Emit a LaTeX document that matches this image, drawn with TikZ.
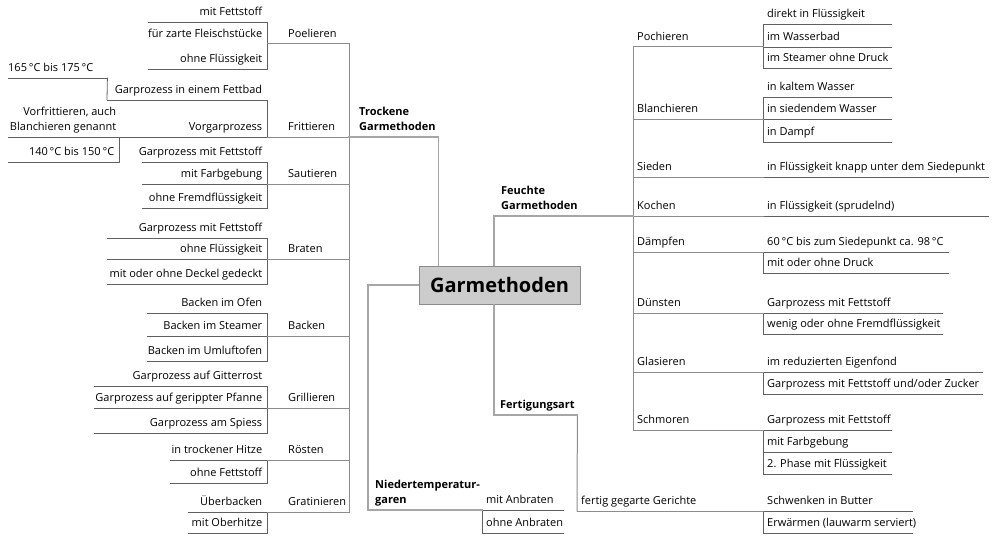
\documentclass[tikz,border=0pt]{standalone}
\usepackage{fontspec}
\setmainfont{Open Sans}
\newcommand{\twol}[2]{\begin{tabular}[b]{@{}l@{}}#1\\#2\end{tabular}}
\newcommand{\twor}[2]{\begin{tabular}[b]{@{}r@{}}#1\\#2\end{tabular}}
\renewcommand{\arraystretch}{1.2}
\tikzset{
  item/.style={anchor=south west, inner xsep=0pt, inner ysep=3.5pt, text depth=2.5pt,
               font=\fontsize{11}{13}\selectfont},
  topic/.style={item, font=\fontsize{11}{13}\selectfont\bfseries},
  leafline/.style={draw=black!62, line width=0.8pt, line cap=rect},
  branchline/.style={draw=black!45, line width=1pt, line cap=rect},
  mainline/.style={draw=black!35, line width=1.3pt, line cap=rect},
  rootbox/.style={draw=black!45, fill=black!20, line width=0.8pt, minimum width=161pt,
                  minimum height=38pt, inner sep=0pt, font=\fontsize{20}{24}\selectfont\bfseries}
}
\begin{document}
\begin{tikzpicture}[x=1pt,y=-1pt]
  \useasboundingbox (0,0) rectangle (1000,543);
  \node[rootbox] (gm) at (499.5,285) {Garmethoden};

  % trockene Garmethoden (links)
  \node[topic] (trock) at (349,137) {\makebox[89pt][l]{\hspace*{10pt}\twol{Trockene}{Garmethoden}}};
  \foreach \n/\y/\t in {poel/44/Poelieren, fritt/137/Frittieren, saut/184/Sautieren,
      brat/259/Braten, back/336/Backen, grill/408/Grillieren, roest/460/Rösten, grat/512/Gratinieren}
    { \node[item] (\n) at (267,\y) {\makebox[82pt][l]{\hspace*{21pt}\t}}; }
  \foreach \n/\xl/\xr/\y/\t in {p1/148/267/22/{mit Fettstoff}, p2/148/267/44/{für zarte Fleischstücke},
      p3/148/267/69/{ohne Flüssigkeit}, f1/107/267/100/{Garprozess in einem Fettbad},
      f2/119/267/137/{Vorgarprozess}, f2b/8/119/162/{140\,°C bis 150\,°C},
      s1/142/267/162/{Garprozess mit Fettstoff}, s2/142/267/184/{mit Farbgebung},
      s3/142/267/208/{ohne Fremdflüssigkeit},
      b1/107/267/238/{Garprozess mit Fettstoff}, b2/107/267/259/{ohne Flüssigkeit},
      b3/107/267/284/{mit oder ohne Deckel gedeckt},
      k1/147/267/313/{Backen im Ofen}, k2/147/267/336/{Backen im Steamer},
      k3/147/267/361/{Backen im Umluftofen},
      g1/94/267/386/{Garprozess auf Gitterrost}, g2/94/267/408/{Garprozess auf gerippter Pfanne},
      g3/94/267/433/{Garprozess am Spiess},
      r1/170/267/460/{in trockener Hitze}, r2/170/267/483/{ohne Fettstoff},
      t1/188/267/512/{Überbacken}, t2/188/267/533/{mit Oberhitze}}
    { \pgfmathsetmacro\w{\xr-\xl}
      \node[item] (\n) at (\xl,\y) {\makebox[\w pt][r]{\t\hspace*{5pt}}}; }
  \node[item] (f1a) at (8,78) {\makebox[99pt][l]{165\,°C bis 175\,°C}};
  \node[item] (f2a) at (8,137) {\makebox[111pt][r]{\twor{Vorfrittieren, auch}{Blanchieren genannt}\hspace*{3pt}}};

  % feuchte Garmethoden (rechts)
  \node[topic] (feucht) at (494,216) {\makebox[139pt][l]{\hspace*{7pt}\twol{Feuchte}{Garmethoden}}};
  \foreach \n/\y/\t in {poch/47/Pochieren, blan/119/Blanchieren, sied/177/Sieden, koch/216/Kochen,
      daem/252/Dämpfen, duen/313/Dünsten, glas/372/Glasieren, schm/430/Schmoren}
    { \node[item] (\n) at (633,\y) {\makebox[130pt][l]{\hspace*{4pt}\t}}; }
  \foreach \n/\xl/\xr/\y/\t in {po1/763/891/24/{direkt in Flüssigkeit}, po2/763/891/47/{im Wasserbad},
      po3/763/891/68/{im Steamer ohne Druck},
      bl1/763/891/97/{in kaltem Wasser}, bl2/763/891/119/{in siedendem Wasser}, bl3/763/891/142/{in Dampf},
      si1/763/988/177/{in Flüssigkeit knapp unter dem Siedepunkt},
      ko1/763/988/216/{in Flüssigkeit (sprudelnd)},
      da1/763/948/252/{60\,°C bis zum Siedepunkt ca. 98\,°C}, da2/763/948/273/{mit oder ohne Druck},
      du1/763/942/313/{Garprozess mit Fettstoff}, du2/763/942/334/{wenig oder ohne Fremdflüssigkeit},
      gl1/763/982/372/{im reduzierten Eigenfond}, gl2/763/982/394/{Garprozess mit Fettstoff und/oder Zucker},
      sc1/763/891/430/{Garprozess mit Fettstoff}, sc2/763/891/452/{mit Farbgebung},
      sc3/763/891/474/{2. Phase mit Flüssigkeit},
      fg/577/763/511/{fertig gegarte Gerichte},
      fg1/763/912/511/{Schwenken in Butter}, fg2/763/912/533/{Erwärmen (lauwarm serviert)},
      ni1/482/563/510/{mit Anbraten}, ni2/482/563/533/{ohne Anbraten}}
    { \pgfmathsetmacro\w{\xr-\xl}
      \node[item] (\n) at (\xl,\y) {\makebox[\w pt][l]{\hspace*{4pt}\t}}; }
  \node[topic] (fert) at (494,415) {\makebox[83pt][l]{\hspace*{6pt}Fertigungsart}};
  \node[topic] (nied) at (368,510) {\makebox[114pt][l]{\hspace*{7pt}\twol{Niedertemperatur-}{garen}}};

  % Linien
  \foreach \n in {p1,p3,f1,f2,f1a,f2a,f2b,s1,s2,s3,b1,b2,b3,k1,k2,k3,g1,g2,g3,r1,r2,t1,t2,
      po1,po2,po3,bl1,bl2,bl3,si1,ko1,da1,da2,du1,du2,gl1,gl2,sc1,sc2,sc3,fg1,fg2,ni1,ni2}
    { \draw[leafline] (\n.south west) -- (\n.south east); }
  \foreach \a/\b in {p1/p3, f1/f2, f2a/f2b, s1/s3, b1/b3, k1/k3, g1/g3, r1/r2, t1/t2}
    { \draw[leafline] (\a.south east) -- (\b.south east); }
  \draw[leafline] (f1a.south east) -- (f1.south west);
  \foreach \a/\b in {po1/po3, bl1/bl3, da1/da2, du1/du2, gl1/gl2, sc1/sc3, fg1/fg2, ni1/ni2}
    { \draw[leafline] (\a.south west) -- (\b.south west); }
  \foreach \n in {poel,fritt,saut,brat,back,grill,roest,grat,poch,blan,sied,koch,daem,duen,glas,schm,fg}
    { \draw[branchline] (\n.south west) -- (\n.south east); }
  \draw[branchline] (poel.south east) -- (grat.south east);
  \draw[branchline] (poch.south west) -- (schm.south west);
  \draw[branchline] (fert.south east) -- (fg.south west);
  \draw[mainline] (trock.south west) -- (trock.south east) -- (trock.south east |- gm.north);
  \draw[mainline] (feucht.south east) -- (feucht.south west) -- (feucht.south west |- gm.north);
  \draw[mainline] (gm.south -| fert.south west) -- (fert.south west) -- (fert.south east);
  \draw[mainline] (gm.west) -| (nied.south west) -- (nied.south east);
\end{tikzpicture}
\end{document}
